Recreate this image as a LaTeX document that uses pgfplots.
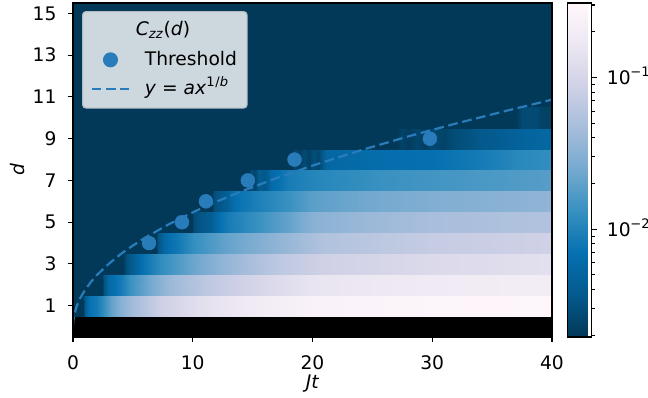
\documentclass[border=0pt]{standalone}
\usepackage{fontspec}
\setmainfont{DejaVu Sans}
\usepackage{pgfplots}
\pgfplotsset{compat=1.18}
\definecolor{cz}{RGB}{40,124,186}
\definecolor{bgdark}{RGB}{2,56,88}
\definecolor{legfill}{RGB}{205,215,222}
\definecolor{legedge}{RGB}{178,187,194}
\newcommand{\fs}{\fontsize{13.5}{16}\selectfont}
\begin{document}
\begin{tikzpicture}
\path[use as bounding box] (-52.56bp,-43.92bp) rectangle (414bp,242.64bp);
\begin{axis}[
  at={(0,0)}, anchor=south west,
  scale only axis, width=344.88bp, height=240.48bp,
  xmin=0, xmax=40, ymin=-0.5, ymax=15.5,
  xtick={0,10,20,30,40}, ytick={1,3,5,7,9,11,13,15},
  tick align=outside, tick pos=left,
  major tick length=3.8bp,
  every tick/.style={black, line width=0.8bp},
  axis line style={line width=0.8bp},
  axis on top,
  /pgf/number format/assume math mode=true,
  ticklabel style={font=\fs},
  xticklabel style={anchor=north, inner sep=0pt, yshift=-9.4bp},
  yticklabel style={anchor=east, inner sep=0pt, xshift=-7.9bp},
  xlabel={\textit{Jt}}, ylabel={\textit{d}},
  label style={font=\fs},
  xlabel style={at={([yshift=-33.5bp]axis description cs:0.5,0)}, anchor=center},
  ylabel style={at={([xshift=-40bp]axis description cs:0,0.5)}, anchor=center},
  axis background/.style={fill=bgdark},
  colormap={pubur}{rgb255=(2,56,88) rgb255=(4,90,141) rgb255=(5,112,176) rgb255=(54,144,192) rgb255=(116,169,207) rgb255=(166,189,219) rgb255=(208,209,230) rgb255=(236,231,242) rgb255=(255,247,251)},
  point meta min=-2.71, point meta max=-0.51,
  colorbar,
  colorbar style={
    at={(parent axis.north east)}, anchor=north west, xshift=2.8bp,
    scale only axis, width=17.28bp, height=240.48bp,
    ytick={-2,-1},
    yticklabels={10\kern-0.3bp\textsuperscript{−2},10\kern-0.3bp\textsuperscript{−1}},
    minor ytick={-2.699,-2.523,-2.398,-2.301,-2.222,-2.155,-2.097,-2.046,-1.699,-1.523,-1.398,-1.301,-1.222,-1.155,-1.097,-1.046,-0.699,-0.523},
    yticklabel pos=right, ytick pos=right,
    tick align=outside,
    major tick length=3.8bp, minor tick length=2.2bp,
    every tick/.style={black, line width=0.8bp},
    axis line style={line width=0.8bp},
    yticklabel style={font=\fs, anchor=base west, inner sep=0pt, xshift=7bp, yshift=-4.9bp},
  },
  legend style={
    at={(rel axis cs:0.0188,0.976)}, anchor=north west,
    fill=legfill, draw=legedge, line width=0.8bp, rounded corners=2.5bp,
    font=\fs,
    inner xsep=5.8bp, inner ysep=5.5bp,
    row sep=4.5bp, column sep=9bp,
    nodes={inner sep=1.5bp, text height=10.5bp, text depth=3bp},
  },
  legend cell align=left,
]
\addlegendimage{empty legend}
\addlegendentry{\hspace*{-6.5bp}\textit{C}\textsubscript{\textit{zz}}(\textit{d})}

% d = 0 row
\addplot[fill=black, draw=none, forget plot] coordinates {(0,-0.5) (40,-0.5) (40,0.5) (0,0.5)} -- cycle;

% d = 1
\addplot[surf, shader=interp, mesh/rows=2, point meta=explicit, forget plot] table[x=t,y=y,meta=L] {
t y L
0 0.5 -2.71
0.8 0.5 -2.71
1.0 0.5 -2.38
1.3 0.5 -2.16
2.0 0.5 -2.07
2.5 0.5 -1.92
3.1 0.5 -1.72
4 0.5 -1.50
5 0.5 -1.35
7.3 0.5 -1.08
10.6 0.5 -0.88
15.6 0.5 -0.71
20 0.5 -0.60
30 0.5 -0.55
40 0.5 -0.53
0 1.5 -2.71
0.8 1.5 -2.71
1.0 1.5 -2.38
1.3 1.5 -2.16
2.0 1.5 -2.07
2.5 1.5 -1.92
3.1 1.5 -1.72
4 1.5 -1.50
5 1.5 -1.35
7.3 1.5 -1.08
10.6 1.5 -0.88
15.6 1.5 -0.71
20 1.5 -0.60
30 1.5 -0.55
40 1.5 -0.53
};
% d = 2
\addplot[surf, shader=interp, mesh/rows=2, point meta=explicit, forget plot] table[x=t,y=y,meta=L] {
t y L
0 1.5 -2.71
2.4 1.5 -2.71
2.6 1.5 -2.49
3.0 1.5 -2.23
3.6 1.5 -2.14
4.0 1.5 -2.07
4.8 1.5 -1.87
6.4 1.5 -1.61
8.1 1.5 -1.39
11.4 1.5 -1.17
15.6 1.5 -0.99
20 1.5 -0.82
30 1.5 -0.73
40 1.5 -0.69
0 2.5 -2.71
2.4 2.5 -2.71
2.6 2.5 -2.49
3.0 2.5 -2.23
3.6 2.5 -2.14
4.0 2.5 -2.07
4.8 2.5 -1.87
6.4 2.5 -1.61
8.1 2.5 -1.39
11.4 2.5 -1.17
15.6 2.5 -0.99
20 2.5 -0.82
30 2.5 -0.73
40 2.5 -0.69
};
% d = 3
\addplot[surf, shader=interp, mesh/rows=2, point meta=explicit, forget plot] table[x=t,y=y,meta=L] {
t y L
0 2.5 -2.71
4.2 2.5 -2.71
4.4 2.5 -2.53
5.0 2.5 -2.38
5.8 2.5 -2.16
7.3 2.5 -1.92
10 2.5 -1.65
12.8 2.5 -1.43
17 2.5 -1.19
21 2.5 -1.06
30 2.5 -0.95
40 2.5 -0.88
0 3.5 -2.71
4.2 3.5 -2.71
4.4 3.5 -2.53
5.0 3.5 -2.38
5.8 3.5 -2.16
7.3 3.5 -1.92
10 3.5 -1.65
12.8 3.5 -1.43
17 3.5 -1.19
21 3.5 -1.06
30 3.5 -0.95
40 3.5 -0.88
};
% d = 4
\addplot[surf, shader=interp, mesh/rows=2, point meta=explicit, forget plot] table[x=t,y=y,meta=L] {
t y L
0 3.5 -2.71
6.9 3.5 -2.71
7.1 3.5 -2.49
7.6 3.5 -2.27
8.0 3.5 -2.16
8.5 3.5 -2.12
10 3.5 -1.90
12.8 3.5 -1.68
17 3.5 -1.46
21 3.5 -1.26
30 3.5 -1.13
40 3.5 -1.06
0 4.5 -2.71
6.9 4.5 -2.71
7.1 4.5 -2.49
7.6 4.5 -2.27
8.0 4.5 -2.16
8.5 4.5 -2.12
10 4.5 -1.90
12.8 4.5 -1.68
17 4.5 -1.46
21 4.5 -1.26
30 4.5 -1.13
40 4.5 -1.06
};
% d = 5
\addplot[surf, shader=interp, mesh/rows=2, point meta=explicit, forget plot] table[x=t,y=y,meta=L] {
t y L
0 4.5 -2.71
9.9 4.5 -2.71
10.1 4.5 -2.53
11.5 4.5 -2.38
12.3 4.5 -2.16
13 4.5 -2.05
14.5 4.5 -1.94
18 4.5 -1.68
20 4.5 -1.50
25 4.5 -1.39
30 4.5 -1.32
40 4.5 -1.26
0 5.5 -2.71
9.9 5.5 -2.71
10.1 5.5 -2.53
11.5 5.5 -2.38
12.3 5.5 -2.16
13 5.5 -2.05
14.5 5.5 -1.94
18 5.5 -1.68
20 5.5 -1.50
25 5.5 -1.39
30 5.5 -1.32
40 5.5 -1.26
};
% d = 6
\addplot[surf, shader=interp, mesh/rows=2, point meta=explicit, forget plot] table[x=t,y=y,meta=L] {
t y L
0 5.5 -2.71
11.6 5.5 -2.71
11.8 5.5 -2.53
12.8 5.5 -2.38
13.5 5.5 -2.16
15 5.5 -2.05
18 5.5 -1.87
20 5.5 -1.72
25 5.5 -1.61
30 5.5 -1.54
40 5.5 -1.46
0 6.5 -2.71
11.6 6.5 -2.71
11.8 6.5 -2.53
12.8 6.5 -2.38
13.5 6.5 -2.16
15 6.5 -2.05
18 6.5 -1.87
20 6.5 -1.72
25 6.5 -1.61
30 6.5 -1.54
40 6.5 -1.46
};
% d = 7
\addplot[surf, shader=interp, mesh/rows=2, point meta=explicit, forget plot] table[x=t,y=y,meta=L] {
t y L
0 6.5 -2.71
14.7 6.5 -2.71
14.9 6.5 -2.53
15.2 6.5 -2.60
15.5 6.5 -2.40
16.0 6.5 -2.46
16.5 6.5 -2.23
18 6.5 -2.05
20 6.5 -1.98
22 6.5 -1.94
26 6.5 -1.87
30 6.5 -1.83
35 6.5 -1.79
40 6.5 -1.74
0 7.5 -2.71
14.7 7.5 -2.71
14.9 7.5 -2.53
15.2 7.5 -2.60
15.5 7.5 -2.40
16.0 7.5 -2.46
16.5 7.5 -2.23
18 7.5 -2.05
20 7.5 -1.98
22 7.5 -1.94
26 7.5 -1.87
30 7.5 -1.83
35 7.5 -1.79
40 7.5 -1.74
};
% d = 8
\addplot[surf, shader=interp, mesh/rows=2, point meta=explicit, forget plot] table[x=t,y=y,meta=L] {
t y L
0 7.5 -2.71
18.3 7.5 -2.71
18.5 7.5 -2.58
18.9 7.5 -2.66
19.3 7.5 -2.56
19.7 7.5 -2.64
20.1 7.5 -2.52
20.5 7.5 -2.60
20.9 7.5 -2.42
21.2 7.5 -2.27
25 7.5 -2.20
30 7.5 -2.16
34 7.5 -2.07
37 7.5 -1.96
40 7.5 -1.90
0 8.5 -2.71
18.3 8.5 -2.71
18.5 8.5 -2.58
18.9 8.5 -2.66
19.3 8.5 -2.56
19.7 8.5 -2.64
20.1 8.5 -2.52
20.5 8.5 -2.60
20.9 8.5 -2.42
21.2 8.5 -2.27
25 8.5 -2.20
30 8.5 -2.16
34 8.5 -2.07
37 8.5 -1.96
40 8.5 -1.90
};
% d = 9
\addplot[surf, shader=interp, mesh/rows=2, point meta=explicit, forget plot] table[x=t,y=y,meta=L] {
t y L
0 8.5 -2.71
27 8.5 -2.71
27.5 8.5 -2.62
28 8.5 -2.68
28.7 8.5 -2.60
29.3 8.5 -2.66
30 8.5 -2.58
31 8.5 -2.62
32 8.5 -2.53
33 8.5 -2.50
34 8.5 -2.44
35 8.5 -2.42
36 8.5 -2.38
37 8.5 -2.33
38 8.5 -2.31
39 8.5 -2.28
40 8.5 -2.27
0 9.5 -2.71
27 9.5 -2.71
27.5 9.5 -2.62
28 9.5 -2.68
28.7 9.5 -2.60
29.3 9.5 -2.66
30 9.5 -2.58
31 9.5 -2.62
32 9.5 -2.53
33 9.5 -2.50
34 9.5 -2.44
35 9.5 -2.42
36 9.5 -2.38
37 9.5 -2.33
38 9.5 -2.31
39 9.5 -2.28
40 9.5 -2.27
};
% d = 10
\addplot[surf, shader=interp, mesh/rows=2, point meta=explicit, forget plot] table[x=t,y=y,meta=L] {
t y L
0 9.5 -2.71
37 9.5 -2.71
37.5 9.5 -2.56
38.7 9.5 -2.56
39.2 9.5 -2.64
40 9.5 -2.64
0 10.5 -2.71
37 10.5 -2.71
37.5 10.5 -2.56
38.7 10.5 -2.56
39.2 10.5 -2.64
40 10.5 -2.64
};

% threshold points
\addplot[only marks, mark=*, mark size=5bp, color=cz,
  legend image code/.code={\fill[cz] (13.5bp,0) circle (5bp);}]
  coordinates {(6.35,4) (9.1,5) (11.1,6) (14.6,7) (18.5,8) (29.8,9)};
\addlegendentry{Threshold}

% fitted curve y = a x^{1/b}
\addplot[color=cz, line width=1.6bp, dash pattern=on 7bp off 3.3bp,
  legend image code/.code={\draw[cz, line width=1.6bp, dash pattern=on 7bp off 3.3bp] (0,0) -- (27bp,0);}]
  coordinates {(0,0) (0.005,0.127) (0.02,0.25) (0.1,0.56) (0.3,0.96) (0.6,1.36) (1,1.75) (1.5,2.14) (2,2.47) (3,3.01) (4,3.48) (5,3.88) (6,4.25) (8,4.90) (10,5.47) (12,5.99) (14,6.46) (17,7.11) (20,7.71) (24,8.44) (28,9.11) (32,9.73) (36,10.31) (40,10.87)};
\addlegendentry{\textit{y} = \textit{ax}\textsuperscript{1\kern0.5pt/\textit{b}}}
\end{axis}
\end{tikzpicture}
\end{document}
